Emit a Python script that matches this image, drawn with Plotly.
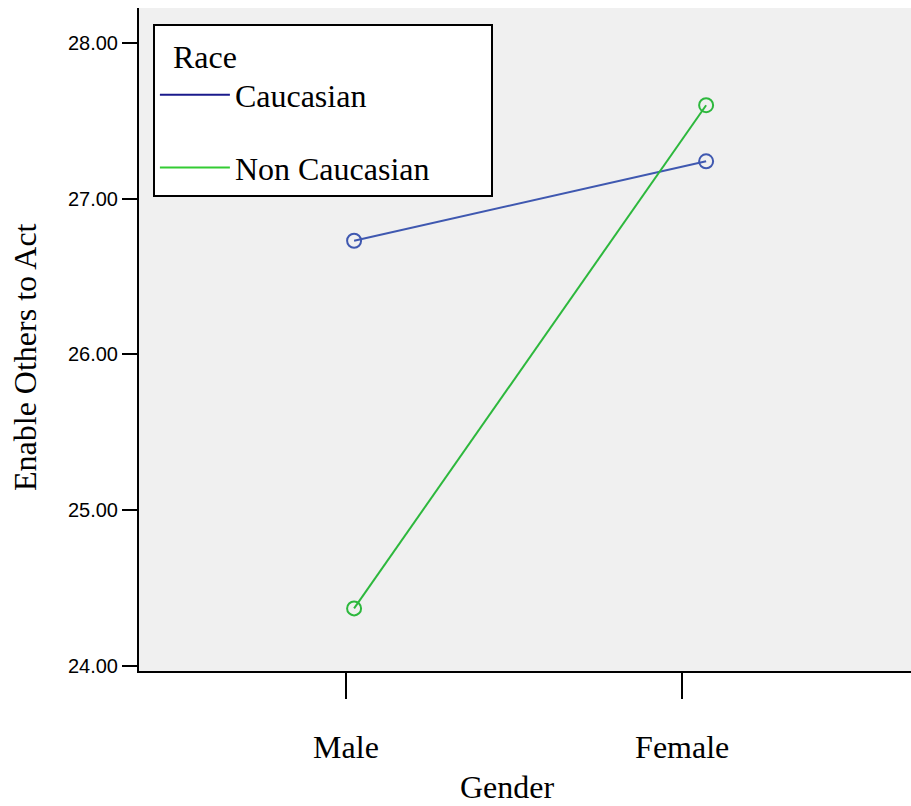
import plotly.graph_objects as go

genders = ["Male", "Female"]
gender_pos = [0, 1]
tick_pos = [-0.023, 0.932]
caucasian = [26.73, 27.24]
non_caucasian = [24.37, 27.60]
series_names = ["Caucasian", "Non Caucasian"]
y_ticks = [24, 25, 26, 27, 28]

plot_colors = ["#3F58B0", "#2DB83D"]
legend_colors = ["#1a1a8c", "#33cc33"]

SERIF = "Liberation Serif"
SANS = "Liberation Sans"
PAD = "\u00a0" * 7

fig = go.Figure()
for name, vals, pc, lc in zip(series_names, [caucasian, non_caucasian], plot_colors, legend_colors):
    fig.add_trace(go.Scatter(
        x=gender_pos, y=vals, mode="lines+markers", name=name, showlegend=False,
        line=dict(color=pc, width=2),
        marker=dict(symbol="circle-open", size=14, color=pc, line=dict(width=2, color=pc)),
    ))
    fig.add_trace(go.Scatter(
        x=[None], y=[None], mode="lines", name=name + PAD, legendgroup=name,
        line=dict(color=lc, width=2),
    ))

fig.add_annotation(
    text="Enable Others to Act", textangle=-90, showarrow=False,
    xref="paper", yref="paper", x=0, y=0.4736, xanchor="center", yanchor="middle",
    xshift=-114, font=dict(family=SERIF, size=32),
)
fig.add_annotation(
    text="Gender", showarrow=False,
    xref="paper", yref="paper", x=0.4767, y=0, xanchor="center", yanchor="middle",
    yshift=-116, font=dict(family=SERIF, size=32),
)

fig.update_layout(
    width=911, height=806,
    margin=dict(l=139, r=0, t=8, b=135),
    paper_bgcolor="white", plot_bgcolor="#F0F0F0",
    font=dict(family=SERIF, color="black", size=32),
    legend=dict(
        x=0.018, y=0.976, xanchor="left", yanchor="top",
        bgcolor="white", bordercolor="black", borderwidth=2,
        font=dict(family=SERIF, size=32),
        title=dict(text="\u00a0\u00a0Race", font=dict(family=SERIF, size=32)),
        tracegroupgap=28, itemwidth=70,
    ),
    xaxis=dict(
        range=[-0.611, 1.582], tickvals=tick_pos, ticktext=genders,
        showgrid=False, zeroline=False, showline=True, linecolor="black", linewidth=2,
        ticks="outside", ticklen=26, tickwidth=2, tickcolor="black",
        ticklabelstandoff=21,
        tickfont=dict(family=SERIF, size=32),
    ),
    yaxis=dict(
        range=[23.968, 28.224], tickvals=y_ticks, tickformat=".2f",
        showgrid=False, zeroline=False, showline=True, linecolor="black", linewidth=2,
        ticks="outside", ticklen=15, tickwidth=2, tickcolor="black",
        tickfont=dict(family=SANS, size=20),
    ),
)

fig.write_html("out.html", config={"displayModeBar": False},
               post_script="document.body.style.margin='0';")
